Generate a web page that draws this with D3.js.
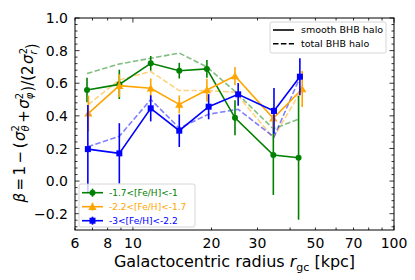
<!DOCTYPE html>
<html><head><meta charset="utf-8">
<script src="https://cdn.jsdelivr.net/npm/d3@7"></script>
<style>
html,body{margin:0;padding:0;background:#fff;}
svg{display:block;font-family:"DejaVu Sans",sans-serif;}
</style></head>
<body>
<svg id="chart" width="415" height="280"></svg>
<script>
// ---- data ----
const rGreen = [6.67, 8.87, 11.7, 15.05, 19.2, 24.6, 34.5, 43.1];
const betaGreen = [0.558, 0.593, 0.722, 0.677, 0.688, 0.388, 0.160, 0.143];
const errGreen = [0.075, 0.09, 0.045, 0.048, 0.055, 0.107, 0.245, 0.38];
const totalGreen = [0.66, 0.718, 0.753, 0.785, 0.70, 0.55, 0.32, 0.38];

const rOrange = [6.75, 8.87, 11.7, 15.05, 19.2, 24.6, 34.5, 44.5];
const betaOrange = [0.415, 0.585, 0.569, 0.47, 0.558, 0.644, 0.385, 0.565];
const errOrange = [0.11, 0.07, 0.06, 0.055, 0.07, 0.056, 0.07, 0.11];
const totalOrange = [0.47, 0.62, 0.672, 0.555, 0.555, 0.545, 0.265, 0.565];

const rBlue = [6.72, 8.87, 11.7, 15.05, 19.5, 25.3, 34.7, 43.6];
const betaBlue = [0.196, 0.17, 0.446, 0.309, 0.456, 0.532, 0.43, 0.64];
const errBlue = [0.27, 0.185, 0.08, 0.1, 0.077, 0.07, 0.14, 0.113];
const totalBlue = [0.21, 0.275, 0.50, 0.325, 0.41, 0.44, 0.27, 0.635];

const seriesLabels = ["-1.7<[Fe/H]<-1", "-2.2<[Fe/H]<-1.7", "-3<[Fe/H]<-2.2"];
const seriesColors = ["#008000", "#ffa500", "#0000ff"];
const seriesMarkers = ["circle", "triangle", "square"];
const xTickLabels = [6, 8, 10, 20, 30, 50, 70, 100];
const yTickLabels = [-0.2, 0.0, 0.2, 0.4, 0.6, 0.8, 1.0];
const styleLabels = ["smooth BHB halo", "total BHB halo"];

// ---- layout ----
const L = 75, R = 394, T = 18, B = 230;
const svg = d3.select("#chart");
const x = d3.scaleLog().domain([6, 100]).range([L, R]);
const y = d3.scaleLinear().domain([-0.3, 1.0]).range([B, T]);

const series = [
  {r: rGreen, b: betaGreen, e: errGreen, t: totalGreen},
  {r: rOrange, b: betaOrange, e: errOrange, t: totalOrange},
  {r: rBlue, b: betaBlue, e: errBlue, t: totalBlue}
].map((s, i) => ({...s, color: seriesColors[i], marker: seriesMarkers[i], label: seriesLabels[i]}));

// ---- dashed "total" lines ----
const line = d3.line().x(d => x(d[0])).y(d => y(d[1]));
series.forEach(s => {
  svg.append("path").attr("d", line(s.r.map((r, i) => [r, s.t[i]])))
    .attr("fill", "none").attr("stroke", s.color).attr("stroke-opacity", 0.5)
    .attr("stroke-width", 1.6).attr("stroke-dasharray", "5.5,2.4");
});

function drawMarker(g, type, cx, cy, color) {
  if (type === "circle") {
    g.append("circle").attr("cx", cx).attr("cy", cy).attr("r", 3).attr("fill", color);
  } else if (type === "square") {
    g.append("rect").attr("x", cx - 3).attr("y", cy - 3).attr("width", 6).attr("height", 6).attr("fill", color);
  } else {
    const sym = d3.symbol().type(d3.symbolTriangle).size(30);
    g.append("path").attr("d", sym()).attr("transform", `translate(${cx},${cy + 0.8})`).attr("fill", color);
  }
}

// ---- solid lines with error bars ----
series.forEach(s => {
  const g = svg.append("g");
  s.r.forEach((r, i) => {
    g.append("line").attr("x1", x(r)).attr("x2", x(r))
      .attr("y1", y(s.b[i] - s.e[i])).attr("y2", y(s.b[i] + s.e[i]))
      .attr("stroke", s.color).attr("stroke-width", 1.6);
  });
  g.append("path").attr("d", line(s.r.map((r, i) => [r, s.b[i]])))
    .attr("fill", "none").attr("stroke", s.color).attr("stroke-width", 1.6);
  s.r.forEach((r, i) => drawMarker(g, s.marker, x(r), y(s.b[i]), s.color));
});

// ---- axes frame & ticks ----
const ax = svg.append("g");
ax.append("rect").attr("x", L).attr("y", T).attr("width", R - L).attr("height", B - T)
  .attr("fill", "none").attr("stroke", "#000").attr("stroke-width", 1);

const xMinor = [6, 7, 8, 9, 20, 30, 40, 50, 60, 70, 80, 90];
const xMajor = [10, 100];
function xTick(v, len) {
  ax.append("line").attr("x1", x(v)).attr("x2", x(v)).attr("y1", B).attr("y2", B - len).attr("stroke", "#000").attr("stroke-width", 0.8);
  ax.append("line").attr("x1", x(v)).attr("x2", x(v)).attr("y1", T).attr("y2", T + len).attr("stroke", "#000").attr("stroke-width", 0.8);
}
xMinor.forEach(v => xTick(v, 2.5));
xMajor.forEach(v => xTick(v, 4.5));
xTickLabels.forEach(v => {
  ax.append("text").attr("x", x(v)).attr("y", B + 18).attr("text-anchor", "middle")
    .attr("font-size", "14px").attr("fill", "#000").text(v);
});

const yMinor = d3.range(-0.28, 1.0001, 0.04).filter(v => Math.abs(Math.round(v * 5) - v * 5) > 1e-6);
function yTick(v, len) {
  ax.append("line").attr("x1", L).attr("x2", L + len).attr("y1", y(v)).attr("y2", y(v)).attr("stroke", "#000").attr("stroke-width", 0.8);
  ax.append("line").attr("x1", R).attr("x2", R - len).attr("y1", y(v)).attr("y2", y(v)).attr("stroke", "#000").attr("stroke-width", 0.8);
}
yMinor.forEach(v => yTick(v, 2.5));
yTickLabels.forEach(v => {
  yTick(v, 4.5);
  ax.append("text").attr("x", L - 7).attr("y", y(v)).attr("dy", "0.36em").attr("text-anchor", "end")
    .attr("font-size", "14px").attr("fill", "#000").text(v < 0 ? "\u2212" + Math.abs(v).toFixed(1) : v.toFixed(1));
});

// ---- axis labels ----
const xl = svg.append("text").attr("x", (L + R) / 2).attr("y", 267).attr("text-anchor", "middle")
  .attr("font-size", "16px").attr("fill", "#000");
xl.append("tspan").text("Galactocentric radius ");
xl.append("tspan").attr("font-style", "italic").text("r");
xl.append("tspan").attr("font-size", "11px").attr("dy", 4).text("gc");
xl.append("tspan").attr("dy", -4).text(" [kpc]");

const yl = svg.append("text").attr("transform", "translate(25,123) rotate(-90)")
  .attr("text-anchor", "middle").attr("font-size", "15px").attr("fill", "#000");
function sigma(t, sub) {
  t.append("tspan").attr("font-style", "italic").attr("dx", 1.5).text("\u03c3");
  t.append("tspan").attr("font-size", "10px").attr("dy", -6.5).text("2");
  t.append("tspan").attr("font-size", "10px").attr("font-style", "italic").attr("dx", -6.4).attr("dy", 10.5).text(sub);
  t.append("tspan").attr("dy", -4).text("");
}
yl.append("tspan").attr("font-style", "italic").text("\u03b2");
yl.append("tspan").attr("dx", 2.5).text("=");
yl.append("tspan").attr("dx", 2.5).text("1");
yl.append("tspan").attr("dx", 2.5).text("\u2212");
yl.append("tspan").attr("dx", 2.5).text("(");
sigma(yl, "\u03b8");
yl.append("tspan").attr("dx", 2.5).text("+");
sigma(yl, "\u03c6");
yl.append("tspan").attr("dx", 1).text(")/(2");
sigma(yl, "r");
yl.append("tspan").attr("dx", 1).text(")");

// ---- legend 1 (line styles) ----
const lg1 = svg.append("g");
lg1.append("rect").attr("x", 270).attr("y", 22).attr("width", 116).attr("height", 31).attr("rx", 2)
  .attr("fill", "#fff").attr("fill-opacity", 0.8).attr("stroke", "#cccccc").attr("stroke-width", 0.8);
styleLabels.forEach((lab, i) => {
  const yy = 30 + i * 13.7;
  lg1.append("line").attr("x1", 273).attr("x2", 294).attr("y1", yy).attr("y2", yy)
    .attr("stroke", "#000").attr("stroke-width", 1.6).attr("stroke-dasharray", i === 1 ? "5.5,2.4" : null);
  lg1.append("text").attr("x", 301).attr("y", yy).attr("dy", "0.35em").attr("font-size", "9.5px").attr("fill", "#000").text(lab);
});

// ---- legend 2 (series) ----
const lg2 = svg.append("g");
lg2.append("rect").attr("x", 79).attr("y", 184).attr("width", 116).attr("height", 43).attr("rx", 2)
  .attr("fill", "#fff").attr("fill-opacity", 0.8).attr("stroke", "#cccccc").attr("stroke-width", 0.8);
series.forEach((s, i) => {
  const yy = 192.7 + i * 14;
  lg2.append("line").attr("x1", 82).attr("x2", 103).attr("y1", yy).attr("y2", yy).attr("stroke", s.color).attr("stroke-width", 1.6);
  lg2.append("line").attr("x1", 92.5).attr("x2", 92.5).attr("y1", yy - 4).attr("y2", yy + 4).attr("stroke", s.color).attr("stroke-width", 1.6);
  drawMarker(lg2, s.marker, 92.5, yy, s.color);
  lg2.append("text").attr("x", 109).attr("y", yy).attr("dy", "0.35em").attr("font-size", "9px").attr("fill", s.color).text(s.label);
});
</script>
</body></html>
